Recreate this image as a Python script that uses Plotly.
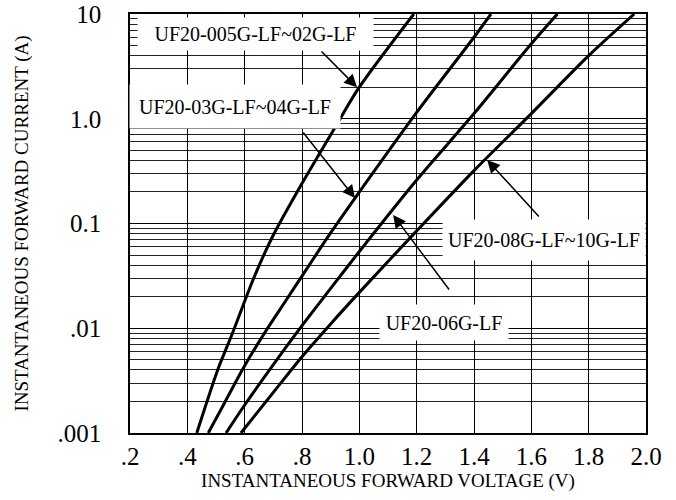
import math
import plotly.graph_objects as go

# ---- data ----
v_005_02 = [0.433, 0.508, 0.555, 0.595, 0.636, 0.70, 0.787, 0.91, 0.997, 1.19]
i_005_02 = [0.001, 0.00415, 0.00863, 0.01667, 0.0322, 0.0776, 0.209, 0.78, 1.95, 10]

v_03_04 = [0.473, 0.532, 0.595, 0.665, 0.741, 0.80, 0.898, 0.985, 1.20, 1.40, 1.459]
i_03_04 = [0.001, 0.00199, 0.00415, 0.00863, 0.0179, 0.0315, 0.080, 0.175, 1.15, 6.0, 10]

v_06 = [0.535, 0.60, 0.70, 0.80, 0.90, 1.00, 1.20, 1.40, 1.60, 1.691]
i_06 = [0.001, 0.00185, 0.0045, 0.0106, 0.0240, 0.054, 0.26, 1.12, 5.2, 10]

v_08_10 = [0.587, 0.70, 0.80, 0.90, 1.00, 1.20, 1.40, 1.60, 1.80, 1.959]
i_08_10 = [0.001, 0.00244, 0.00535, 0.0110, 0.0220, 0.085, 0.32, 1.12, 4.0, 10]

x_tickvals = [0.2, 0.4, 0.6, 0.8, 1.0, 1.2, 1.4, 1.6, 1.8, 2.0]
x_ticktext = [".2", ".4", ".6", ".8", "1.0", "1.2", "1.4", "1.6", "1.8", "2.0"]
y_tickvals = [0.001, 0.01, 0.1, 1, 10]
y_ticktext = [".001", ".01", "0.1", "1.0", "10"]

FONT = "Liberation Serif"

fig = go.Figure()
for v, i in [(v_005_02, i_005_02), (v_03_04, i_03_04), (v_06, i_06), (v_08_10, i_08_10)]:
    fig.add_trace(go.Scatter(x=v, y=i, mode="lines",
                             line=dict(color="black", width=3, shape="spline", smoothing=0.8),
                             showlegend=False, hoverinfo="skip"))

minor_vals = [k * 10 ** e for e in range(-3, 1) for k in range(2, 10)]

fig.update_layout(
    width=676, height=500,
    margin=dict(l=130, r=30, t=14, b=67),
    paper_bgcolor="white", plot_bgcolor="white",
    font=dict(family=FONT, color="black"),
    xaxis=dict(
        range=[0.2, 2.0], tickvals=x_tickvals, ticktext=x_ticktext,
        showgrid=True, gridcolor="black", gridwidth=1, zeroline=False,
        showline=True, mirror=True, linecolor="black", linewidth=1.5,
        ticks="", tickfont=dict(size=25, family=FONT, color="black"),
        ticklabelstandoff=0, automargin=False,
        title=dict(text="INSTANTANEOUS FORWARD VOLTAGE (V)",
                   font=dict(size=19, family=FONT, color="black"), standoff=0),
    ),
    yaxis=dict(
        type="log", range=[-3, 1], tickvals=y_tickvals, ticktext=y_ticktext,
        showgrid=True, gridcolor="black", gridwidth=1, zeroline=False,
        showline=True, mirror=True, linecolor="black", linewidth=1.5,
        ticks="", tickfont=dict(size=25, family=FONT, color="black"),
        ticklabelstandoff=22, automargin=False, ticklabeloverflow="allow",
        minor=dict(tickvals=minor_vals, showgrid=True, gridcolor="#222", gridwidth=1, ticks=""),
        title=dict(text="INSTANTANEOUS FORWARD CURRENT (A)",
                   font=dict(size=19, family=FONT, color="black"), standoff=24),
    ),
)

# label boxes (white background hides grid)
labels = [
    ("UF20-005G-LF~02G-LF", 0.638, 0.809, 235, 32),
    ("UF20-03G-LF~04G-LF", 0.566, 0.117, 210, 43),
    ("UF20-08G-LF~10G-LF", 1.645, -1.158, 202, 40),
    ("UF20-06G-LF", 1.296, -1.945, 128, 35),
]
for text, x, y, w, h in labels:
    fig.add_annotation(x=x, y=y, xref="x", yref="y", text=text, showarrow=False,
                       font=dict(size=20, family=FONT, color="black"),
                       bgcolor="white", width=w, height=h, borderpad=0,
                       xanchor="center", yanchor="middle")

# arrows: (tip V, tip I, tail V, tail I)
arrows = [
    (0.992, 2.00, 0.863, 4.53),
    (0.985, 0.175, 0.800, 0.764),
    (1.446, 0.404, 1.631, 0.113),
    (1.118, 0.1206, 1.317, 0.0227),
]
for tx, ty, sx, sy in arrows:
    fig.add_annotation(x=tx, y=math.log10(ty), xref="x", yref="y",
                       ax=sx, ay=math.log10(sy), axref="x", ayref="y",
                       text="", showarrow=True, arrowhead=2, arrowsize=1.7,
                       arrowwidth=1.5, arrowcolor="black", standoff=0, startstandoff=0)

# remove the page's default body margin so the 676x500 figure fills the window exactly
fig.write_html("out.html", config={"displayModeBar": False},
               post_script="document.body.style.margin='0px';")
